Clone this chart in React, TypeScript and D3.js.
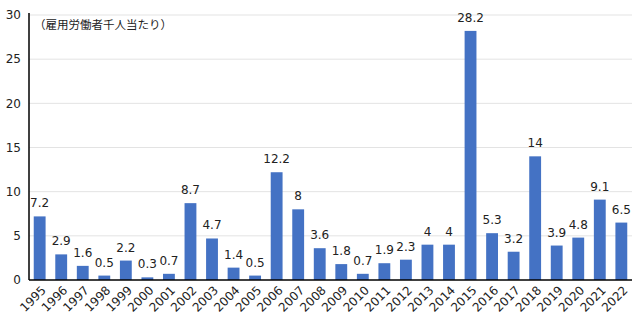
import React from "react";
import * as d3 from "d3";

const years = ["1995","1996","1997","1998","1999","2000","2001","2002","2003","2004","2005","2006","2007","2008","2009","2010","2011","2012","2013","2014","2015","2016","2017","2018","2019","2020","2021","2022"];
const values = [7.2,2.9,1.6,0.5,2.2,0.3,0.7,8.7,4.7,1.4,0.5,12.2,8,3.6,1.8,0.7,1.9,2.3,4,4,28.2,5.3,3.2,14,3.9,4.8,9.1,6.5];
const yTicks = [0,5,10,15,20,25,30];
const unitLabel = "（雇用労働者千人当たり）";

export default function App() {
  const W = 639, H = 330;
  const left = 29, right = 632, top = 15, bottom = 280;
  const x = d3.scaleBand<string>().domain(years).range([left, right]).paddingInner(0.45).paddingOuter(0.22);
  const y = d3.scaleLinear().domain([0, 30]).range([bottom, top]);
  const numFont = "'DejaVu Sans', sans-serif";
  const cjkFont = "'Noto Sans CJK JP', sans-serif";
  return (
    <svg width={W} height={H} style={{ position: "absolute", left: 0, top: 0, background: "#fff" }} fontFamily={numFont}>
      {yTicks.map(t => (
        <g key={t}>
          {t > 0 && <line x1={left} x2={right} y1={y(t)} y2={y(t)} stroke="#e3e3e3" strokeWidth={1} />}
          <text x={21} y={y(t)} dy="0.35em" textAnchor="end" fontSize={12} fill="#222">{t}</text>
        </g>
      ))}
      {years.map((yr, i) => (
        <rect key={yr} x={x(yr)} y={y(values[i])} width={x.bandwidth()} height={bottom - y(values[i])} fill="#4472C4" />
      ))}
      {years.map((yr, i) => (
        <text key={"v" + yr} x={(x(yr) as number) + x.bandwidth() / 2} y={y(values[i]) - 9} textAnchor="middle" fontSize={12} fill="#222">{values[i]}</text>
      ))}
      <line x1={left} x2={left} y1={top - 2} y2={bottom} stroke="#000" strokeWidth={1.5} />
      <line x1={left} x2={right} y1={bottom} y2={bottom} stroke="#000" strokeWidth={1.5} />
      {years.map(yr => {
        const cx = (x(yr) as number) + x.bandwidth() / 2 + 4;
        const cy = bottom + 8;
        return (
          <text key={"t" + yr} transform={`translate(${cx},${cy}) rotate(-45)`} textAnchor="end" dy="0.35em" fontSize={12} fill="#222">{yr}</text>
        );
      })}
      <text x={34} y={29} fontSize={11.5} fill="#222" fontFamily={cjkFont}>{unitLabel}</text>
    </svg>
  );
}
